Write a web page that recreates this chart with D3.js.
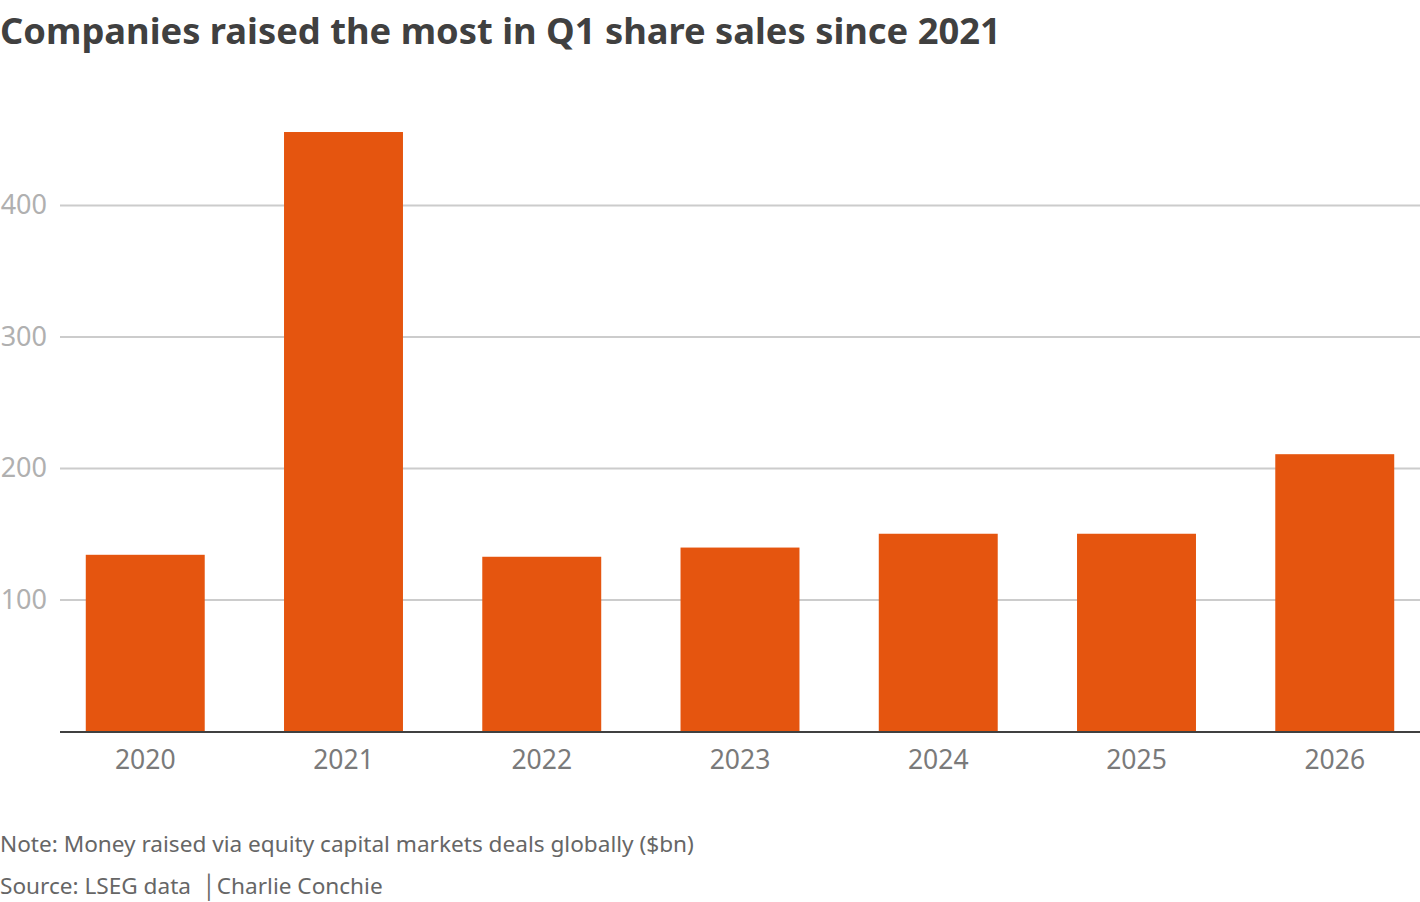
<!DOCTYPE html>
<html>
<head>
<meta charset="utf-8">
<script src="https://cdn.jsdelivr.net/npm/d3@7"></script>
<style>
  body { margin: 0; background: #fff; }
  svg { display: block; font-family: "Noto Sans", sans-serif; }
</style>
</head>
<body>
<svg id="chart" width="1420" height="902"></svg>
<script>
// Q1 equity capital markets proceeds, $bn
let years = ["2020", "2021", "2022", "2023", "2024", "2025", "2026"];
let raised = [134, 455.5, 132.5, 139.5, 150, 150, 210.5];
let yTicks = [100, 200, 300, 400];

let title = "Companies raised the most in Q1 share sales since 2021";
let note = "Note: Money raised via equity capital markets deals globally ($bn)";
let source = "Source: LSEG data  \u2502Charlie Conchie";

var svg = d3.select("#chart");
var left = 60, right = 1420, baseline = 731;

var x = d3.scaleBand()
    .domain(years)
    .range([left, right])
    .paddingInner(0.4)
    .paddingOuter(0.13);

var y = d3.scaleLinear()
    .domain([0, 400])
    .range([baseline, 205]);

svg.append("text")
    .attr("x", 0).attr("y", 44)
    .attr("font-size", 36.3).attr("font-weight", 700)
    .attr("fill", "#404040")
    .text(title);

// gridlines
var yAxis = svg.append("g")
    .attr("transform", "translate(" + left + ",0)")
    .call(d3.axisLeft(y).tickValues(yTicks).tickSize(-(right - left)).tickPadding(13));
yAxis.select(".domain").remove();
yAxis.selectAll(".tick line").attr("stroke", "#cccccc").attr("stroke-width", 2);
yAxis.selectAll(".tick text")
    .attr("fill", "#b0b0b0")
    .attr("font-size", 27)
    .attr("font-family", "Noto Sans, sans-serif");

svg.selectAll("rect.bar")
    .data(raised)
    .enter()
    .append("rect")
    .attr("class", "bar")
    .attr("x", function(d, i){ return x(years[i]); })
    .attr("y", function(d){ return y(d); })
    .attr("width", x.bandwidth())
    .attr("height", function(d){ return baseline - y(d); })
    .attr("fill", "#e5550f");

var xAxis = svg.append("g")
    .attr("transform", "translate(0," + baseline + ")")
    .call(d3.axisBottom(x).tickSize(0).tickPadding(19));
xAxis.select(".domain").remove();
xAxis.selectAll(".tick text")
    .attr("fill", "#7a7a7a")
    .attr("font-size", 26.5)
    .attr("font-family", "Noto Sans, sans-serif");

svg.append("line")
    .attr("x1", left).attr("x2", right)
    .attr("y1", baseline + 1).attr("y2", baseline + 1)
    .attr("stroke", "#404040").attr("stroke-width", 2);

svg.append("text")
    .attr("x", 0).attr("y", 852)
    .attr("font-size", 22.6).attr("fill", "#666666")
    .text(note);

svg.append("text")
    .attr("x", 0).attr("y", 894)
    .attr("font-size", 22.6).attr("fill", "#666666")
    .attr("xml:space", "preserve")
    .style("white-space", "pre")
    .text(source);
</script>
</body>
</html>
